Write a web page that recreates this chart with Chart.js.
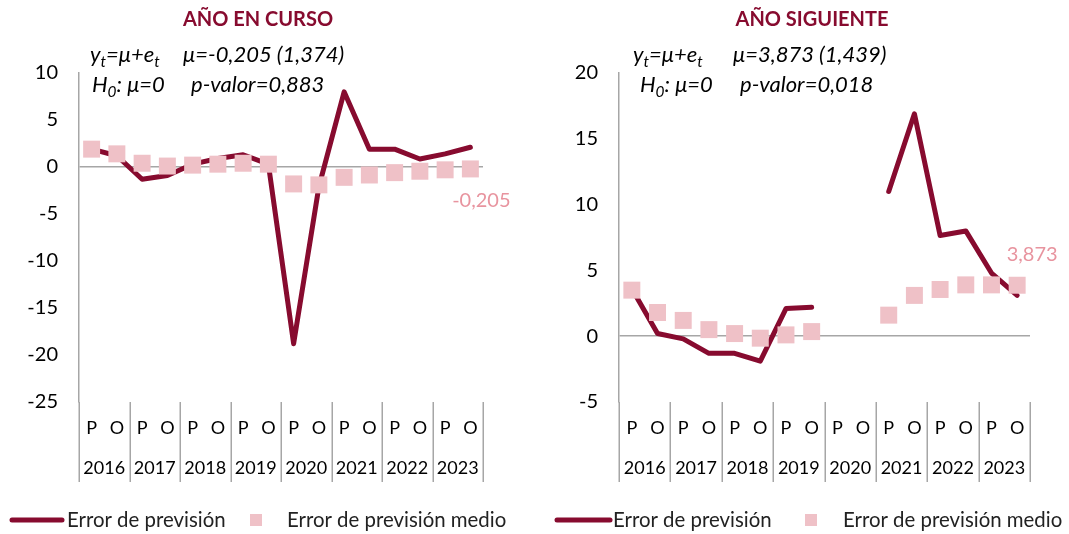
<!DOCTYPE html>
<html>
<head>
<meta charset="utf-8">
<script src="https://cdn.jsdelivr.net/npm/chart.js@4.4.1/dist/chart.umd.min.js"></script>
<style>
  html, body { margin: 0; padding: 0; background: #fff; }
  #wrap { position: relative; width: 1069px; height: 534px; }
  #c1 { position: absolute; left: 0; top: 0; }
  #c2 { position: absolute; left: 540px; top: 0; }
</style>
</head>
<body>
<div id="wrap">
  <canvas id="c1" width="540" height="534"></canvas>
  <canvas id="c2" width="529" height="534"></canvas>
</div>
<script>
// categories
const halves = ['P', 'O', 'P', 'O', 'P', 'O', 'P', 'O', 'P', 'O', 'P', 'O', 'P', 'O', 'P', 'O'];
const years = ['2016', '2017', '2018', '2019', '2020', '2021', '2022', '2023'];

// año en curso
const cursoError = [1.9, 1.2, -1.3, -0.9, 0.3, 0.9, 1.3, 0.3, -18.8, -2.1, 8.0, 1.9, 1.9, 0.85, 1.4, 2.1];
const cursoMedio = [1.9, 1.4, 0.4, 0.1, 0.2, 0.3, 0.4, 0.3, -1.8, -1.9, -1.1, -0.85, -0.6, -0.45, -0.3, -0.205];

// año siguiente
const sigError = [3.6, 0.2, -0.2, -1.3, -1.3, -1.9, 2.1, 2.2, null, null, 11.0, 16.9, 7.65, 8.0, 4.8, 3.1];
const sigMedio = [3.5, 1.8, 1.2, 0.5, 0.2, -0.15, 0.1, 0.35, null, null, 1.6, 3.1, 3.55, 3.9, 3.9, 3.873];

const MAROON = '#870b2f';
const PINK = '#efc1c7';
const PINK_TXT = '#e8949f';
const GREY = '#a6a6a6';
const FONT = 'Lato, "Open Sans", sans-serif';

// draws text pieces, some as subscripts
function drawRich(ctx, parts, x, y, size) {
  let cx = x;
  parts.forEach(([txt, sub]) => {
    const s = sub ? size * 0.7 : size;
    ctx.font = 'italic ' + s + 'px ' + FONT;
    ctx.fillText(txt, cx, sub ? y + 5 : y);
    cx += ctx.measureText(txt).width;
  });
}

const decor = {
  id: 'decor',
  afterDraw(chart, args, o) {
    const ctx = chart.ctx;
    const xs = chart.scales.x;
    const area = chart.chartArea;
    ctx.save();

    // title
    ctx.fillStyle = MAROON;
    ctx.font = 'bold 20px ' + FONT;
    ctx.textAlign = 'center';
    ctx.textBaseline = 'middle';
    ctx.fillText(o.title, o.titleX, 20);

    // model text
    ctx.fillStyle = '#000';
    ctx.textAlign = 'left';
    ctx.textBaseline = 'alphabetic';
    drawRich(ctx, [['y'], ['t', 1], ['=μ+e'], ['t', 1]], o.eqX[0], 62, 22);
    drawRich(ctx, [[o.mu]], o.eqX[1], 62, 22);
    drawRich(ctx, [['H'], ['0', 1], [': μ=0']], o.eqX[2], 92, 22);
    drawRich(ctx, [[o.pval]], o.eqX[3], 92, 22);

    // value label at last mean point
    const meta = chart.getDatasetMeta(0);
    const last = meta.data[meta.data.length - 1];
    ctx.fillStyle = PINK_TXT;
    ctx.font = '20px ' + FONT;
    ctx.textAlign = 'center';
    ctx.textBaseline = 'middle';
    ctx.fillText(o.valLabel, last.x + o.valOff[0], last.y + o.valOff[1]);

    // category axis: P/O row, year row and separators
    const w = (area.right - area.left) / halves.length;
    ctx.fillStyle = '#000';
    ctx.font = '18px ' + FONT;
    halves.forEach((h, i) => ctx.fillText(h, xs.getPixelForValue(i), 428));
    years.forEach((yr, i) => ctx.fillText(yr, area.left + (2 * i + 1) * w, 468));
    ctx.strokeStyle = GREY;
    ctx.lineWidth = 1.5;
    for (let i = 0; i <= years.length; i++) {
      const x = Math.round(area.left + 2 * i * w) + 0.25;
      ctx.beginPath();
      ctx.moveTo(x, area.bottom);
      ctx.lineTo(x, 482);
      ctx.stroke();
    }

    // legend
    const lg = o.legend;
    ctx.strokeStyle = MAROON;
    ctx.lineWidth = 5;
    ctx.lineCap = 'round';
    ctx.beginPath();
    ctx.moveTo(lg[0], 520);
    ctx.lineTo(lg[1], 520);
    ctx.stroke();
    ctx.fillStyle = PINK;
    ctx.fillRect(lg[3] - 6, 514, 12, 12);
    ctx.fillStyle = '#222';
    ctx.font = '20.4px ' + FONT;
    ctx.textAlign = 'left';
    ctx.fillText('Error de previsión', lg[2], 520);
    ctx.fillText('Error de previsión medio', lg[4], 520);
    ctx.restore();
  }
};

function makeChart(id, err, medio, yMin, yMax, padRight, deco) {
  return new Chart(document.getElementById(id), {
    type: 'line',
    data: {
      labels: halves,
      datasets: [
        {
          label: 'Error de previsión medio',
          data: medio,
          showLine: false,
          pointStyle: 'rect',
          pointRadius: 12,
          pointBorderWidth: 0,
          pointBackgroundColor: PINK,
          backgroundColor: PINK,
          order: 0
        },
        {
          label: 'Error de previsión',
          data: err,
          borderColor: MAROON,
          borderWidth: 5,
          borderJoinStyle: 'round',
          borderCapStyle: 'round',
          tension: 0,
          pointRadius: 0,
          spanGaps: false,
          order: 1
        }
      ]
    },
    options: {
      responsive: false,
      animation: false,
      layout: { padding: { left: 0, top: 73, right: padRight, bottom: 132 } },
      plugins: {
        legend: { display: false },
        tooltip: { enabled: false },
        decor: deco
      },
      scales: {
        x: { display: false, offset: true },
        y: {
          min: yMin,
          max: yMax,
          afterFit(scale) { scale.width = 79; },
          ticks: {
            stepSize: 5,
            padding: 21,
            color: '#000',
            font: { family: FONT, size: 20 }
          },
          grid: {
            drawTicks: false,
            lineWidth: 1.5,
            color: c => (c.tick && c.tick.value === 0 ? GREY : 'rgba(0,0,0,0)')
          },
          border: { display: true, color: GREY, width: 1.5 }
        }
      }
    },
    plugins: [decor]
  });
}

makeChart('c1', cursoError, cursoMedio, -25, 10, 57, {
  title: 'AÑO EN CURSO',
  titleX: 258,
  mu: 'μ=-0,205 (1,374)',
  pval: 'p-valor=0,883',
  eqX: [90, 183, 92, 191],
  valLabel: '-0,205',
  valOff: [11, 32],
  legend: [12, 62, 67, 256, 287]
});

makeChart('c2', sigError, sigMedio, -5, 20, 39, {
  title: 'AÑO SIGUIENTE',
  titleX: 272,
  mu: 'μ=3,873 (1,439)',
  pval: 'p-valor=0,018',
  eqX: [93, 193, 100, 200],
  valLabel: '3,873',
  valOff: [15, -31],
  legend: [17, 70, 73, 271, 303]
});
</script>
</body>
</html>
